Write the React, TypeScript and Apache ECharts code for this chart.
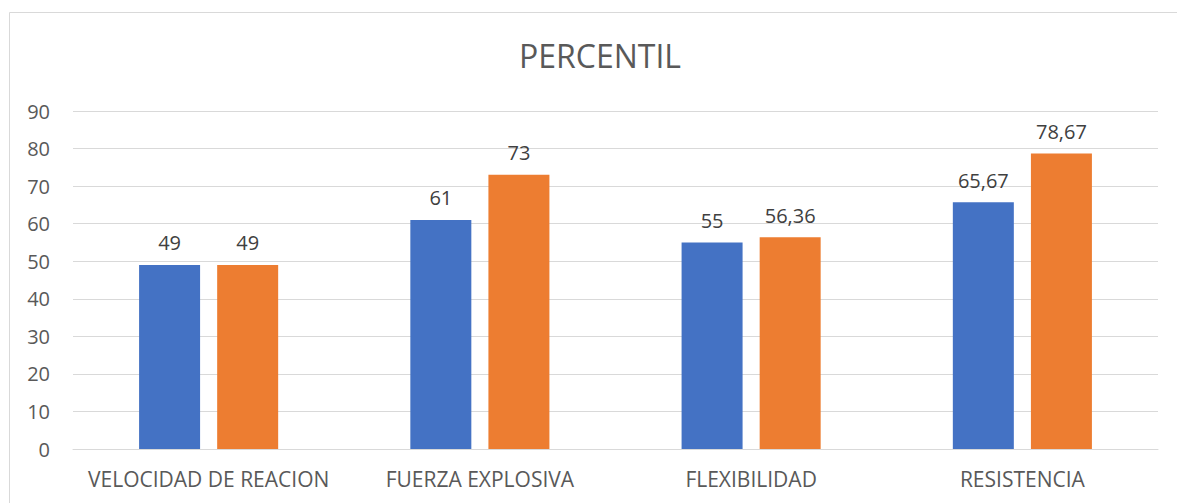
import React, { useEffect, useRef } from "react";
import * as echarts from "echarts";

const categories = ["VELOCIDAD DE REACION", "FUERZA EXPLOSIVA", "FLEXIBILIDAD", "RESISTENCIA"];
const seriesA = [49, 61, 55, 65.67];
const seriesB = [49, 73, 56.36, 78.67];
const titleText = "PERCENTIL";

const FONT = "'Open Sans', sans-serif";
const TEXT = "#595959";

const fmt = (v: number) => String(v).replace(".", ",");

export default function App() {
  const ref = useRef<HTMLDivElement>(null);
  useEffect(() => {
    const chart = echarts.init(ref.current!, undefined, { renderer: "svg" });
    const label = {
      show: true,
      position: "top",
      distance: 12,
      color: "#404040",
      fontSize: 20,
      fontFamily: FONT,
      formatter: (p: any) => fmt(p.value),
    };
    chart.setOption({
      animation: false,
      backgroundColor: "#ffffff",
      graphic: [
        {
          type: "rect",
          shape: { x: 9.5, y: 12.5, width: 1300, height: 600 },
          style: { fill: "none", stroke: "#D9D9D9", lineWidth: 1 },
          silent: true,
        },
        {
          type: "text",
          x: 600,
          y: 55,
          style: {
            text: titleText,
            fill: TEXT,
            fontSize: 32,
            fontFamily: FONT,
            textAlign: "center",
            textVerticalAlign: "middle",
          },
        },
      ],
      grid: { left: 73, right: 1177 - 1158, top: 111, bottom: 503 - 449, containLabel: false },
      xAxis: {
        type: "category",
        data: categories,
        axisLine: { show: true, lineStyle: { color: "#D9D9D9" } },
        axisTick: { show: false },
        axisLabel: { color: TEXT, fontSize: 21, fontFamily: FONT, margin: 19, interval: 0 },
      },
      yAxis: {
        type: "value",
        min: 0,
        max: 90,
        interval: 10,
        axisLine: { show: false },
        axisTick: { show: false },
        splitLine: { lineStyle: { color: "#D9D9D9", width: 1 } },
        axisLabel: { color: TEXT, fontSize: 20, fontFamily: FONT, margin: 23 },
      },
      series: [
        {
          type: "bar",
          data: seriesA,
          barWidth: 61,
          barGap: "28%",
          itemStyle: { color: "#4472C4" },
          label,
        },
        {
          type: "bar",
          data: seriesB,
          barWidth: 61,
          itemStyle: { color: "#ED7D31" },
          label,
        },
      ],
    });
    return () => chart.dispose();
  }, []);
  return (
    <div
      ref={ref}
      style={{ position: "fixed", left: 0, top: 0, width: 1177, height: 503 }}
    />
  );
}
